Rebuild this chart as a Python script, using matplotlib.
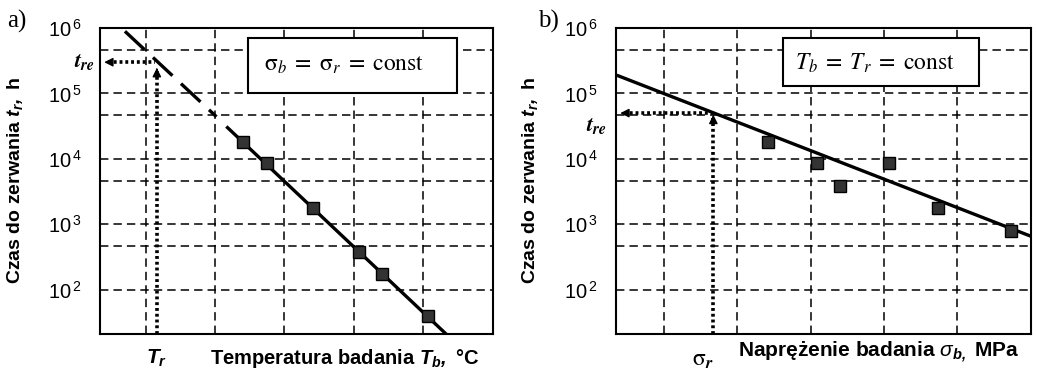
import matplotlib
matplotlib.use("Agg")
import matplotlib.pyplot as plt
from matplotlib.patches import Rectangle
import matplotlib.ticker as mticker

plt.rcParams['font.family'] = ['Liberation Sans', 'DejaVu Sans']
plt.rcParams['mathtext.fontset'] = 'custom'
plt.rcParams['mathtext.rm'] = 'Liberation Sans'
plt.rcParams['mathtext.it'] = 'Liberation Sans:italic'
plt.rcParams['mathtext.bf'] = 'Liberation Sans:bold'
plt.rcParams['mathtext.bfit'] = 'Liberation Sans:bold:italic'

# ---------------- data ----------------
# panel a) (x in grid units, no numeric ticks shown)
temp_x = [2.40, 2.75, 3.41, 4.08, 4.41, 5.07]
temp_t = [17800, 8500, 1800, 380, 175, 39]
temp_fit_solid_x = [2.18, 5.40]
temp_fit_solid_t = [30000, 18]
temp_fit_dash_x = [0.70, 2.02]
temp_fit_dash_t = [890000, 44000]
Tr_x = 1.16
tre_a = 3.0e5

# panel b)
stress_x = [2.41, 3.08, 3.40, 4.07, 4.74, 5.74]
stress_t = [17800, 8500, 3800, 8500, 1800, 800]
stress_fit_x = [0.37, 6.01]
stress_fit_t = [186000, 655]
sr_x = 1.67
tre_b = 5.0e4

x_grid = [1, 2, 3, 4, 5]
y_major = [1e2, 1e3, 1e4, 1e5, 1e6]
y_major_labels = ['2', '3', '4', '5', '6']
y_minor = [460, 4600, 46000, 460000]
xlim = (0.34, 6.01)
ylim = (21, 1e6)

W, H = 1038, 374
fig = plt.figure(figsize=(W / 100, H / 100), dpi=100)

def fx(x):
    return x / W

def fy(y):
    return 1 - y / H

axA = fig.add_axes([fx(100), fy(334), fx(493) - fx(100), fy(28) - fy(334)])
axB = fig.add_axes([fx(616), fy(334), fx(1031) - fx(616), fy(28) - fy(334)])

grid_kw = dict(color='black', lw=1.1, ls=(0, (5.5, 3.3)), zorder=1)
dot_kw = dict(color='black', lw=2.6, ls=(0, (0.8, 0.8)), zorder=4)
arrow_kw = dict(arrowstyle='-|>', color='black', lw=1, mutation_scale=13)

for ax in (axA, axB):
    ax.set_yscale('log')
    ax.set_xlim(*xlim)
    ax.set_ylim(*ylim)
    for xv in x_grid:
        ax.axvline(xv, **grid_kw)
    for yv in y_major[:-1] + y_minor:
        ax.axhline(yv, **grid_kw)
    ax.set_xticks([])
    ax.yaxis.set_major_locator(mticker.FixedLocator(y_major))
    ax.yaxis.set_major_formatter(mticker.FixedFormatter(
        [r'$\mathregular{10}^{\,%s}$' % e for e in y_major_labels]))
    ax.yaxis.set_minor_locator(mticker.NullLocator())
    ax.tick_params(axis='y', length=0, pad=13, labelsize=14.5)
    for s in ax.spines.values():
        s.set_linewidth(1.5)

marker_kw = dict(ls='none', marker='s', ms=8.5, mfc='#333333', mec='black', mew=1.0, zorder=5)

# ---- panel a ----
axA.plot(temp_fit_dash_x, temp_fit_dash_t, color='black', lw=2.4, ls=(0, (8, 3.5)), zorder=4)
axA.plot(temp_fit_solid_x, temp_fit_solid_t, color='black', lw=2.4, zorder=4)
axA.plot(temp_x, temp_t, **marker_kw)
axA.plot([Tr_x, Tr_x], [ylim[0], tre_a * 0.78], **dot_kw)
axA.annotate('', xy=(Tr_x, tre_a * 0.9), xytext=(Tr_x, tre_a * 0.7), arrowprops=arrow_kw, zorder=4)
axA.plot([0.45, Tr_x - 0.02], [tre_a, tre_a], **dot_kw)
axA.annotate('', xy=(0.36, tre_a), xytext=(0.55, tre_a), arrowprops=arrow_kw, zorder=4)
axA.add_patch(Rectangle((0.377, 0.788), 0.908 - 0.377, 0.967 - 0.788, transform=axA.transAxes,
                        facecolor='white', edgecolor='black', lw=1.5, zorder=6))
axA.text(0.622, 0.879, r'$\mathrm{\sigma}_b\;=\;\mathrm{\sigma}_r\;=\;\mathrm{const}$',
         transform=axA.transAxes, ha='center', va='center', fontsize=17,
         math_fontfamily='stix', zorder=7)

# ---- panel b ----
axB.plot(stress_fit_x, stress_fit_t, color='black', lw=2.4, zorder=4)
axB.plot(stress_x, stress_t, **marker_kw)
axB.plot([sr_x, sr_x], [ylim[0], tre_b * 0.85], **dot_kw)
axB.annotate('', xy=(sr_x, tre_b * 1.04), xytext=(sr_x, tre_b * 0.78), arrowprops=arrow_kw, zorder=4)
axB.plot([0.45, sr_x], [tre_b, tre_b], **dot_kw)
axB.annotate('', xy=(0.36, tre_b), xytext=(0.55, tre_b), arrowprops=arrow_kw, zorder=4)
axB.add_patch(Rectangle((0.402, 0.810), 0.875 - 0.402, 0.967 - 0.810, transform=axB.transAxes,
                        facecolor='white', edgecolor='black', lw=1.5, zorder=6))
axB.text(0.625, 0.886, r'$T_b\;=\;T_r\;=\;\mathrm{const}$',
         transform=axB.transAxes, ha='center', va='center', fontsize=17,
         math_fontfamily='stix', zorder=7)

# ---- figure texts ----
fig.text(fx(17), fy(21), 'a)', family='Liberation Serif', fontsize=18, ha='center', va='center')
fig.text(fx(548), fy(21), 'b)', family='Liberation Serif', fontsize=18, ha='center', va='center')

fig.text(fx(85), fy(62), r'$\mathbfit{t}_{\mathbfit{re}}$', fontsize=16, ha='center', va='center',
         math_fontfamily='stix')
fig.text(fx(597), fy(126), r'$\mathbfit{t}_{\mathbfit{re}}$', fontsize=16, ha='center', va='center',
         math_fontfamily='stix')

fig.text(fx(157), fy(358), r'$\mathbfit{T_r}$', fontsize=15, ha='center', va='center')
fig.text(fx(345), fy(358), r'Temperatura badania $\mathbfit{T_b,}$ °C', fontsize=14.5,
         fontweight='bold', ha='center', va='center')

fig.text(fx(703), fy(360), r'$\mathrm{\sigma}_{\mathbfit{r}}$', fontsize=17, ha='center', va='center',
         math_fontfamily='stix')
fig.text(fx(879), fy(352), r'Naprężenie badania $\mathit{\sigma}_{\mathbfit{b,}}$ MPa', fontsize=15,
         fontweight='bold', ha='center', va='center')

fig.text(fx(15), fy(180), r'Czas do zerwania $\mathbfit{t_r,}$ h', fontsize=14, fontweight='bold',
         rotation=90, ha='center', va='center')
fig.text(fx(530), fy(180), r'Czas do zerwania $\mathbfit{t_r,}$ h', fontsize=14, fontweight='bold',
         rotation=90, ha='center', va='center')

fig.savefig('out.png', dpi=100)
